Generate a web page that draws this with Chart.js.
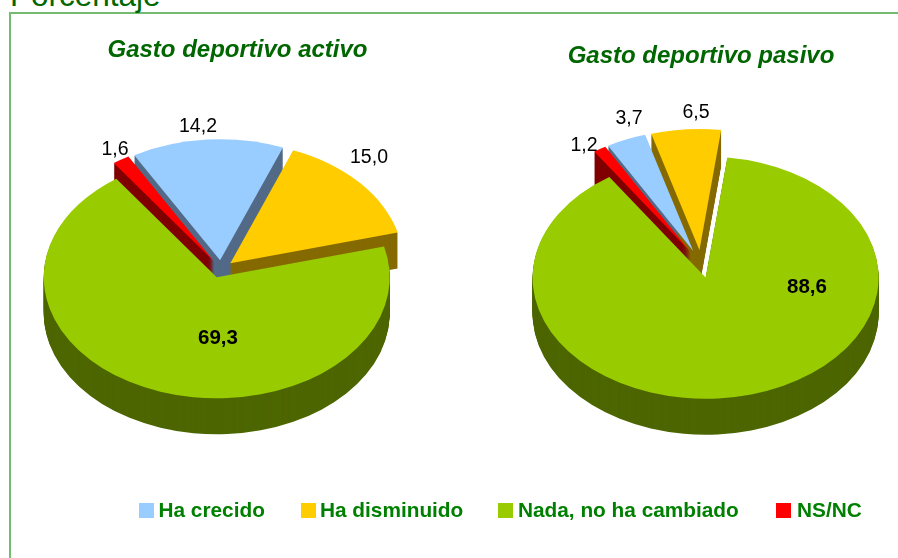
<!DOCTYPE html>
<html><head><meta charset="utf-8">
<script src="https://cdn.jsdelivr.net/npm/chart.js@4"></script>
<style>
html,body{margin:0;padding:0;background:#fff}
#page{position:relative;width:898px;height:558px;overflow:hidden;font-family:"Liberation Sans",Arial,sans-serif}
#frame{position:absolute;left:9px;top:12px;width:900px;height:600px;border:2px solid #72BC72;box-sizing:border-box}
#axis{position:absolute;left:10px;top:-23px;font-size:31.5px;line-height:36px;color:#006600}
canvas{position:absolute;top:0}
.sw{position:absolute;top:503px;width:15px;height:15px}
.lt{position:absolute;top:498px;font-size:20.8px;line-height:24px;font-weight:bold;color:#008000;white-space:nowrap}
</style></head><body>
<div id="page">
<div id="frame"></div><div id="axis">Porcentaje</div>
<canvas id="c1" width="475" height="558" style="left:0"></canvas>
<canvas id="c2" width="394" height="558" style="left:504px"></canvas>
</div>
<script>
const categories=["Ha crecido","Ha disminuido","Nada, no ha cambiado","NS/NC"];
const sliceColors=["#99CCFF","#FFCC00","#99CC00","#FF0000"];
const wallColors=["#526A87","#856A00","#4D6600","#800000"];
const activoValues=[14.2,15.0,69.3,1.6];
const pasivoValues=[3.7,6.5,88.6,1.2];
const activoTitle="Gasto deportivo activo";
const pasivoTitle="Gasto deportivo pasivo";
const smallSliceOrder=[0,1,3], bigSlice=2;
const squash=0.7, depth=36, pieRadius=173;
const fmt=v=>v.toFixed(1).replace(".",",");

const pie3d={id:"pie3d",beforeDatasetsDraw(chart,_a,o){
  const ctx=chart.ctx, arcs=chart.getDatasetMeta(0).data;
  const path=(a,dy)=>{
    const p=a.getProps(["x","y","startAngle","endAngle","outerRadius"],true);
    const off=a.options.offset, mid=(p.startAngle+p.endAngle)/2;
    const x=o.cx+Math.cos(mid)*off, y=o.cy+Math.sin(mid)*off*squash+dy;
    ctx.beginPath();
    ctx.moveTo(x,y);
    ctx.ellipse(x,y,p.outerRadius,p.outerRadius*squash,0,p.startAngle,p.endAngle);
    ctx.closePath();
  };
  const wall=i=>{ctx.fillStyle=wallColors[i];for(let d=depth;d>0;d--){path(arcs[i],d);ctx.fill();}};
  const top=i=>{ctx.fillStyle=sliceColors[i];path(arcs[i],0);ctx.fill();};
  smallSliceOrder.forEach(wall);
  smallSliceOrder.forEach(top);
  wall(bigSlice);top(bigSlice);
  o.labels.forEach((l,i)=>{
    ctx.font=(i===2?"bold 20.5px":"19.5px")+' "Liberation Sans",Arial,sans-serif';
    ctx.fillStyle="#000";ctx.textAlign="center";ctx.textBaseline="middle";
    ctx.fillText(fmt(chart.data.datasets[0].data[i]),l[0],l[1]);
  });
  return false;
}};

function makePie(id,values,title,titleTop,offset,rotation,cx,cy,labels){
  return new Chart(document.getElementById(id),{
    type:"pie",
    data:{labels:categories,datasets:[{data:values,backgroundColor:sliceColors,borderWidth:0,offset:offset}]},
    plugins:[pie3d],
    options:{
      responsive:false,animation:false,radius:pieRadius,rotation:rotation,
      layout:{padding:0},
      plugins:{
        legend:{display:false},tooltip:{enabled:false},
        title:{display:true,text:title,color:"#006600",
          font:{family:'"Liberation Sans",Arial,sans-serif',size:24,weight:"bold",style:"italic"},
          padding:{top:titleTop,bottom:0}},
        pie3d:{cx,cy,labels}
      }
    },
  });
}
makePie("c1",activoValues,activoTitle,36,12.5,-29.75,221,269,[[198,127],[369,158],[218,338],[115,150]]);
makePie("c2",pasivoValues,pasivoTitle,42,20,-29.5,197,264,[[125,119],[192,113],[303,287],[80,146]]);

const swX=[139,301,498,776], txtX=[158.5,320,518,797];
const page=document.getElementById("page");
categories.forEach((c,i)=>{
  const s=document.createElement("div");s.className="sw";s.style.left=swX[i]+"px";s.style.background=sliceColors[i];page.appendChild(s);
  const t=document.createElement("div");t.className="lt";t.style.left=txtX[i]+"px";t.textContent=c;page.appendChild(t);
});
</script>
</body></html>
